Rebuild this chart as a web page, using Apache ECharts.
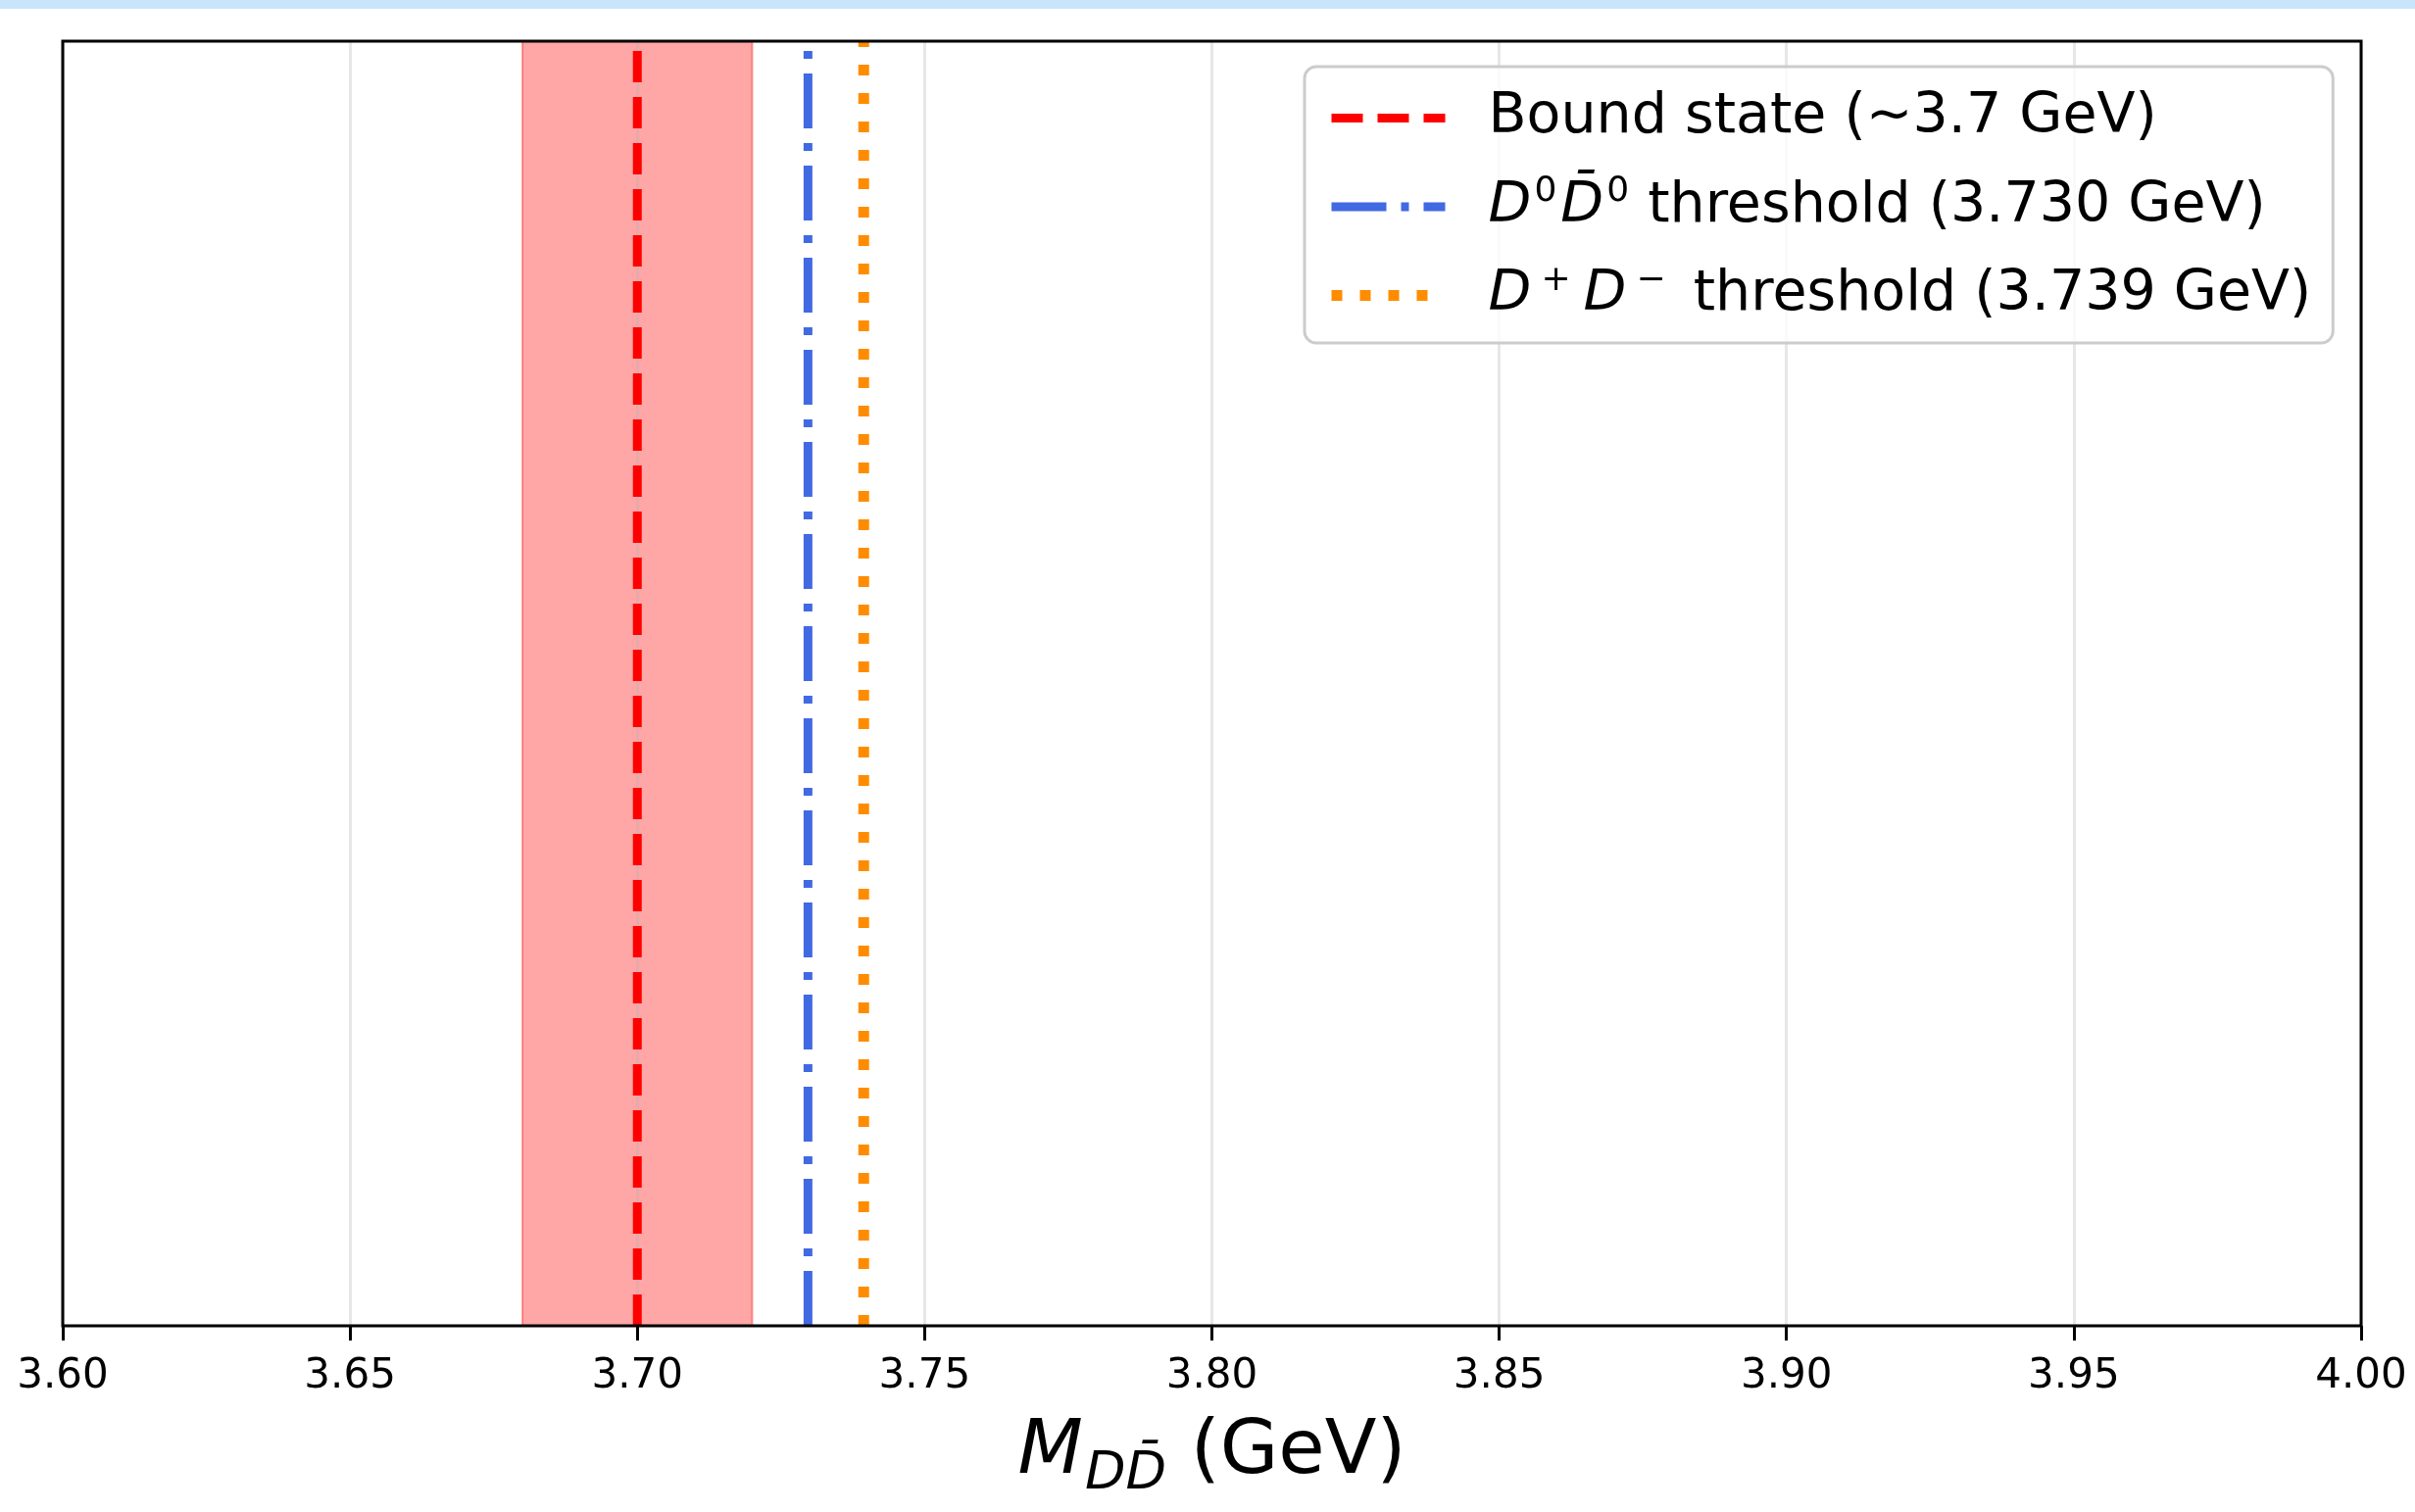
<!DOCTYPE html>
<html>
<head>
<meta charset="utf-8">
<script src="https://cdn.jsdelivr.net/npm/echarts@6/dist/echarts.min.js"></script>
<style>
  html, body { margin: 0; padding: 0; background: #ffffff; }
  #chart { position: absolute; left: 0; top: 0; width: 2464px; height: 1543px; }
  #topbar { position: absolute; left: 0; top: 0; width: 2464px; height: 9px; background: #c9e5fc; z-index: 10; }
</style>
</head>
<body>
<div id="chart"></div>
<div id="topbar"></div>
<script>
// ---- data ----
const xTicks = [3.60, 3.65, 3.70, 3.75, 3.80, 3.85, 3.90, 3.95, 4.00];
const xTickStep = 0.05;
const yRange = [0, 1];
const boundStateMass = 3.70;
const boundStateBand = [3.68, 3.72];
const d0d0barThreshold = 3.7297;
const dpdmThreshold = 3.7394;
const seriesNames = ['Bound state (~3.7 GeV)', 'D0D0bar threshold (3.730 GeV)', 'D+D- threshold (3.739 GeV)'];
const legendRich = [
  '{first|Bound state (~3.7 GeV)}',
  '{itFirst|D}{sup|0}{it|D\u0304}{sup|0}{n| threshold (3.730 GeV)}',
  '{itFirst|D}{supS|+}{it|D}{supS|\u2212}{n| threshold (3.739 GeV)}'
];
const xAxisTitle = '{m|M}{sub|DD\u0304}{n| (GeV)}';

const FONT = 'DejaVu Sans';
const chart = echarts.init(document.getElementById('chart'), null, { renderer: 'canvas' });

function vline(x) { return [[x, yRange[0]], [x, yRange[1]]]; }

const legendMap = {};
seriesNames.forEach((n, i) => { legendMap[n] = legendRich[i]; });

const option = {
  animation: false,
  backgroundColor: '#ffffff',
  grid: {
    left: 64, right: 55, top: 42, bottom: 190,
    show: true, borderColor: '#000000', borderWidth: 3,
    backgroundColor: 'transparent', z: 4
  },
  xAxis: {
    type: 'value',
    min: xTicks[0], max: xTicks[xTicks.length - 1], interval: xTickStep,
    z: 2,
    axisLine: { show: false },
    axisTick: { show: true, length: 15, lineStyle: { color: '#000000', width: 3 } },
    axisLabel: {
      margin: 31, fontSize: 42, color: '#000000', fontFamily: FONT,
      formatter: v => v.toFixed(2)
    },
    splitLine: { show: true, lineStyle: { color: 'rgba(176,176,176,0.3)', width: 3 } },
    name: xAxisTitle,
    nameLocation: 'middle',
    nameGap: 85,
    nameTextStyle: {
      fontFamily: FONT, fontSize: 77, color: '#000000',
      rich: {
        m: { fontFamily: FONT, fontSize: 77, fontStyle: 'italic', color: '#000', lineHeight: 90 },
        sub: { fontFamily: FONT, fontSize: 54, fontStyle: 'italic', color: '#000', lineHeight: 90, padding: [43, 0, 0, 2] },
        n: { fontFamily: FONT, fontSize: 77, color: '#000', lineHeight: 90 }
      }
    }
  },
  yAxis: {
    type: 'value', min: yRange[0], max: yRange[1],
    show: false
  },
  legend: {
    data: seriesNames,
    orient: 'vertical',
    left: 1331, top: 68,
    padding: [24, 22, 20, 22],
    itemWidth: 116, itemHeight: 60, itemGap: 29,
    backgroundColor: 'rgba(255,255,255,0.8)',
    borderColor: '#cccccc', borderWidth: 3, borderRadius: 12,
    selectedMode: false,
    z: 5,
    itemStyle: { opacity: 0, borderWidth: 0 },
    lineStyle: { width: 'inherit', type: 'inherit', color: 'inherit', cap: 'butt' },
    formatter: name => legendMap[name],
    textStyle: {
      fontFamily: FONT, fontSize: 57, color: '#000000',
      rich: {
        first: { fontFamily: FONT, fontSize: 57, color: '#000', lineHeight: 60, padding: [0, 0, 0, 39] },
        itFirst: { fontFamily: FONT, fontSize: 57, fontStyle: 'italic', color: '#000', lineHeight: 60, padding: [0, 0, 0, 39] },
        it: { fontFamily: FONT, fontSize: 57, fontStyle: 'italic', color: '#000', lineHeight: 60, padding: [0, 0, 0, 3] },
        sup: { fontFamily: FONT, fontSize: 36, color: '#000', height: 12, lineHeight: 60, padding: [0, 1, 30, 3] },
        supS: { fontFamily: FONT, fontSize: 36, color: '#000', height: 12, lineHeight: 60, padding: [0, 10, 30, 10] },
        n: { fontFamily: FONT, fontSize: 57, color: '#000', lineHeight: 60 }
      }
    }
  },
  series: [
    {
      type: 'custom',
      name: 'band',
      z: 1,
      silent: true,
      data: [[boundStateBand[0], boundStateBand[1]]],
      renderItem: function (params, api) {
        const p0 = api.coord([api.value(0), yRange[1]]);
        const p1 = api.coord([api.value(1), yRange[0]]);
        return {
          type: 'rect',
          shape: { x: p0[0], y: p0[1], width: p1[0] - p0[0], height: p1[1] - p0[1] },
          style: { fill: 'rgba(255,0,0,0.35)', stroke: 'rgba(255,0,0,0.35)', lineWidth: 2 }
        };
      }
    },
    {
      type: 'line', name: seriesNames[0], z: 3,
      symbol: 'none', silent: true,
      data: vline(boundStateMass),
      lineStyle: { color: '#ff0000', width: 9, type: [32, 15] },
      itemStyle: { color: '#ff0000' }
    },
    {
      type: 'line', name: seriesNames[1], z: 3,
      symbol: 'none', silent: true,
      data: vline(d0d0barThreshold),
      lineStyle: { color: '#4169e1', width: 9, type: [56, 15, 8, 15] },
      itemStyle: { color: '#4169e1' }
    },
    {
      type: 'line', name: seriesNames[2], z: 3,
      symbol: 'none', silent: true,
      data: vline(dpdmThreshold),
      lineStyle: { color: '#ff8c00', width: 11, type: [11, 18] },
      itemStyle: { color: '#ff8c00' }
    }
  ]
};
chart.setOption(option);
</script>
</body>
</html>
